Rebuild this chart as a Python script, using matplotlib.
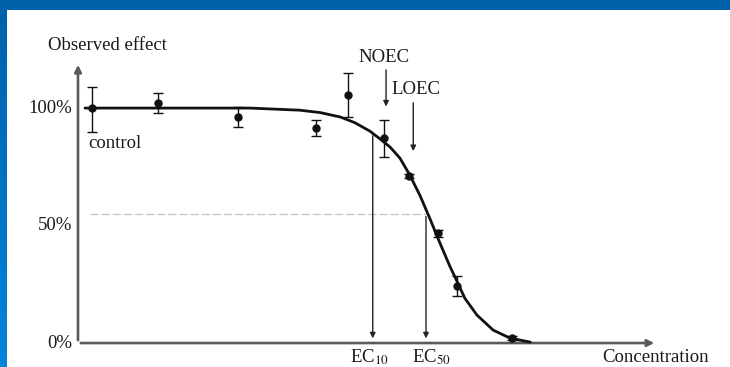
import matplotlib
matplotlib.use("Agg")
import matplotlib.pyplot as plt
import numpy as np
from matplotlib.colors import LinearSegmentedColormap

plt.rcParams["font.family"] = ["Liberation Serif", "DejaVu Serif"]
plt.rcParams["mathtext.fontset"] = "stix"

# measured points (concentration in axis units 0-100, effect in %)
conc = [2.4, 13.8, 27.6, 41.1, 46.6, 52.8, 57.2, 62.2, 65.5, 75.0]
effect = [100.0, 102.0, 96.2, 91.5, 105.5, 87.2, 71.1, 46.8, 24.3, 2.1]
err_low = [10.0, 4.1, 4.3, 3.4, 9.3, 8.1, 1.0, 1.5, 4.2, 0.8]
err_high = [9.0, 4.4, 4.2, 3.4, 9.4, 7.7, 1.0, 1.5, 4.2, 0.8]

# fitted dose-response curve
curve_x = [1.2, 21.1, 29.7, 38.3, 41.8, 45.3, 47.8, 50.4, 52.2, 53.9, 55.6,
           57.3, 59.1, 60.8, 62.5, 64.2, 65.5, 66.8, 68.9, 71.7, 74.6, 78.1]
curve_y = [100.0, 100.0, 100.0, 99.1, 98.1, 96.2, 93.8, 90.2, 86.8, 83.4, 78.7,
           71.5, 62.6, 52.8, 42.6, 32.8, 26.0, 19.1, 11.9, 5.5, 2.1, 0.4]

ec10_x, ec10_y = 50.9, 89.4
ec50_x, ec50_y = 60.1, 55.0
noec_x, loec_x = 53.2, 57.9

ytick_vals = [100, 50, 0]
ytick_labels = ["100%", "50%", "0%"]

fig = plt.figure(figsize=(7.3, 3.67), dpi=100, facecolor="white")
ax = fig.add_axes([0, 0, 1, 1])
ax.set_xlim(-13.47, 112.6)
ax.set_ylim(-10.2, 146.0)
ax.set_axis_off()

axis_col = "#5a5a5a"
# axes drawn as arrows
ax.annotate("", xy=(0, 119.6), xytext=(0, 0),
            arrowprops=dict(arrowstyle="-|>", color=axis_col, lw=1.9, mutation_scale=10))
ax.annotate("", xy=(100, 0), xytext=(0, 0),
            arrowprops=dict(arrowstyle="-|>", color=axis_col, lw=1.9, mutation_scale=10))

# 50% guide line
ax.plot([2.0, ec50_x], [ec50_y, ec50_y], color="#c8c8c8", lw=1.0, ls=(0, (6, 2)))

ax.plot(curve_x, curve_y, color="#111111", lw=2.0, solid_joinstyle="round",
        solid_capstyle="round", zorder=3)
ax.errorbar(conc, effect, yerr=[err_low, err_high], fmt="o", color="#111111",
            ms=5, elinewidth=1.0, capsize=3.5, capthick=1.0, zorder=4)

arrow_kw = dict(arrowstyle="-|>", color="#222222", lw=1.0, mutation_scale=8)
ax.annotate("", xy=(ec10_x, 0.8), xytext=(ec10_x, ec10_y), arrowprops=arrow_kw)
ax.annotate("", xy=(ec50_x, 0.8), xytext=(ec50_x, ec50_y), arrowprops=arrow_kw)
ax.annotate("", xy=(noec_x, 99.5), xytext=(noec_x, 117.4), arrowprops=arrow_kw)
ax.annotate("", xy=(loec_x, 80.5), xytext=(loec_x, 103.4), arrowprops=arrow_kw)

fs = 13.5
tc = "#1a1a1a"
ax.text(noec_x - 0.3, 121.7, "NOEC", ha="center", va="center", fontsize=fs, color=tc)
ax.text(loec_x + 0.4, 107.7, "LOEC", ha="center", va="center", fontsize=fs, color=tc)
ax.text(1.7, 85.1, "control", ha="left", va="center", fontsize=fs, color=tc)
ax.text(-5.2, 126.8, "Observed effect", ha="left", va="center", fontsize=fs, color=tc)
for v, lab in zip(ytick_vals, ytick_labels):
    ax.text(-1.0, v, lab, ha="right", va="center", fontsize=fs, color=tc)
ax.text(50.4, -5.8, "EC$_{10}$", ha="center", va="center", fontsize=fs, color=tc)
ax.text(61.0, -5.8, "EC$_{50}$", ha="center", va="center", fontsize=fs, color=tc)
ax.text(99.8, -6.0, "Concentration", ha="center", va="center", fontsize=fs, color=tc)

# blue slide frame: top bar and gradient left bar
top = fig.add_axes([0, 1 - 10 / 367, 1, 10 / 367])
top.set_axis_off()
top.add_patch(plt.Rectangle((0, 0), 1, 1, color="#0062ab", transform=top.transAxes))
left = fig.add_axes([0, 0, 7 / 730, 1 - 10 / 367])
left.set_axis_off()
grad = np.linspace(0, 1, 256).reshape(-1, 1)
cmap = LinearSegmentedColormap.from_list("frame", ["#0084dc", "#0062ab"])
left.imshow(grad, aspect="auto", cmap=cmap, origin="lower", extent=(0, 1, 0, 1))

fig.savefig("out.png", dpi=100, facecolor="white")
